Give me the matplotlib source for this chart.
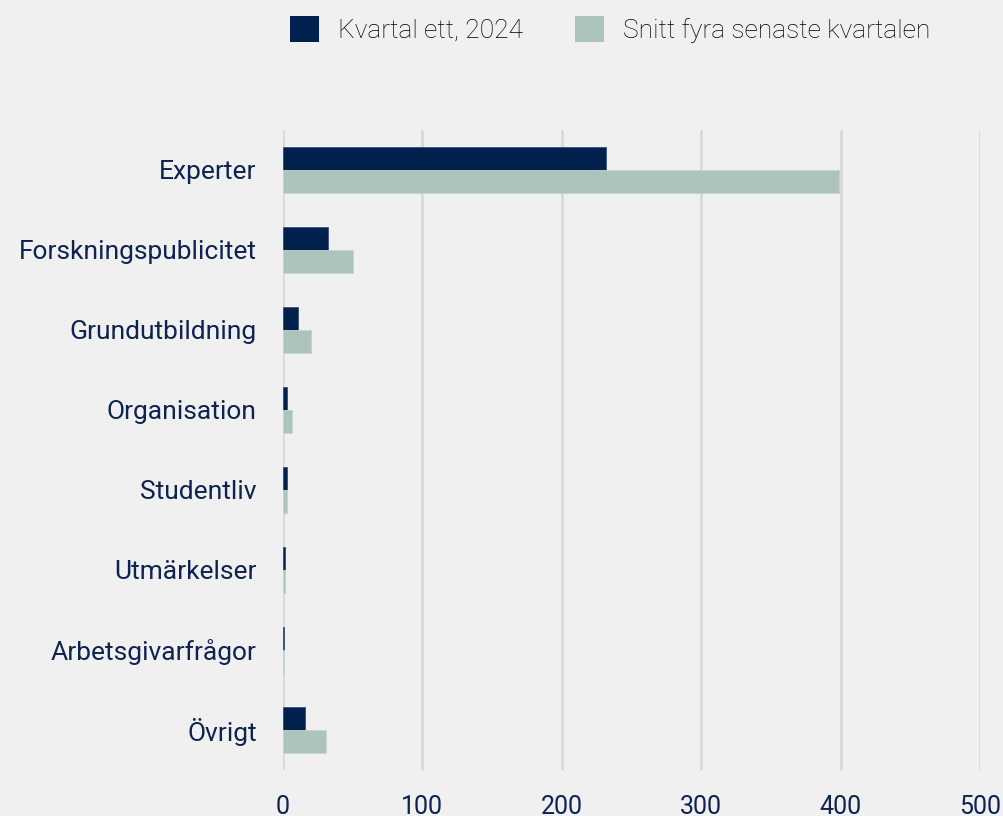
import numpy as np
import matplotlib.pyplot as plt
from matplotlib.patches import Patch

plt.rcParams['font.family'] = ['Roboto', 'DejaVu Sans']

categories = ['Experter', 'Forskningspublicitet', 'Grundutbildning', 'Organisation',
              'Studentliv', 'Utmärkelser', 'Arbetsgivarfrågor', 'Övrigt']
kvartal_ett = [232, 32, 11, 2.6, 2.6, 1.4, 0.7, 15.5]
snitt_fyra = [399, 50, 20, 6.5, 2.6, 1.2, 0.4, 31]
series_names = ['Kvartal ett, 2024', 'Snitt fyra senaste kvartalen']
xticks = [0, 100, 200, 300, 400, 500]

NAVY = '#00204e'
SAGE = '#adc4bd'
BG = '#f0f0f0'
GRID = '#d9d9d9'
LABEL = '#0e2350'

fig = plt.figure(figsize=(10.04, 8.16), dpi=100, facecolor=BG)
ax = fig.add_axes([0.2819, 0.0564, 0.6942, 0.7843], facecolor=BG)

y = np.arange(len(categories))
h = 0.29
ax.barh(y - h / 2, kvartal_ett, height=h, color=NAVY, edgecolor='#3a4f78', linewidth=0.6, zorder=3)
ax.barh(y + h / 2, snitt_fyra, height=h, color=SAGE, edgecolor='#c4d4cf', linewidth=0.6, zorder=3)

ax.set_xlim(0, 500)
ax.set_ylim(len(categories) - 0.5, -0.5)
ax.set_xticks(xticks)
ax.set_yticks(y)
ax.set_yticklabels(categories)
ax.tick_params(axis='y', length=0, pad=19, labelsize=19, labelcolor=LABEL)
ax.tick_params(axis='x', length=0, pad=18, labelsize=18, labelcolor=LABEL)
for s in ax.spines.values():
    s.set_visible(False)
ax.grid(axis='x', color=GRID, linewidth=2, zorder=0)
ax.set_axisbelow(True)

handles = [Patch(facecolor=NAVY, label=series_names[0]),
           Patch(facecolor=SAGE, label=series_names[1])]
fig.legend(handles=handles, loc='upper center', bbox_to_anchor=(0.608, 1.009), ncol=2,
           frameon=False, prop={'size': 19, 'weight': 'light'}, handlelength=1.1,
           handleheight=1.1, columnspacing=1.97, handletextpad=0.72, labelcolor='#000000')

fig.savefig('out.png', dpi=100, facecolor=BG)
